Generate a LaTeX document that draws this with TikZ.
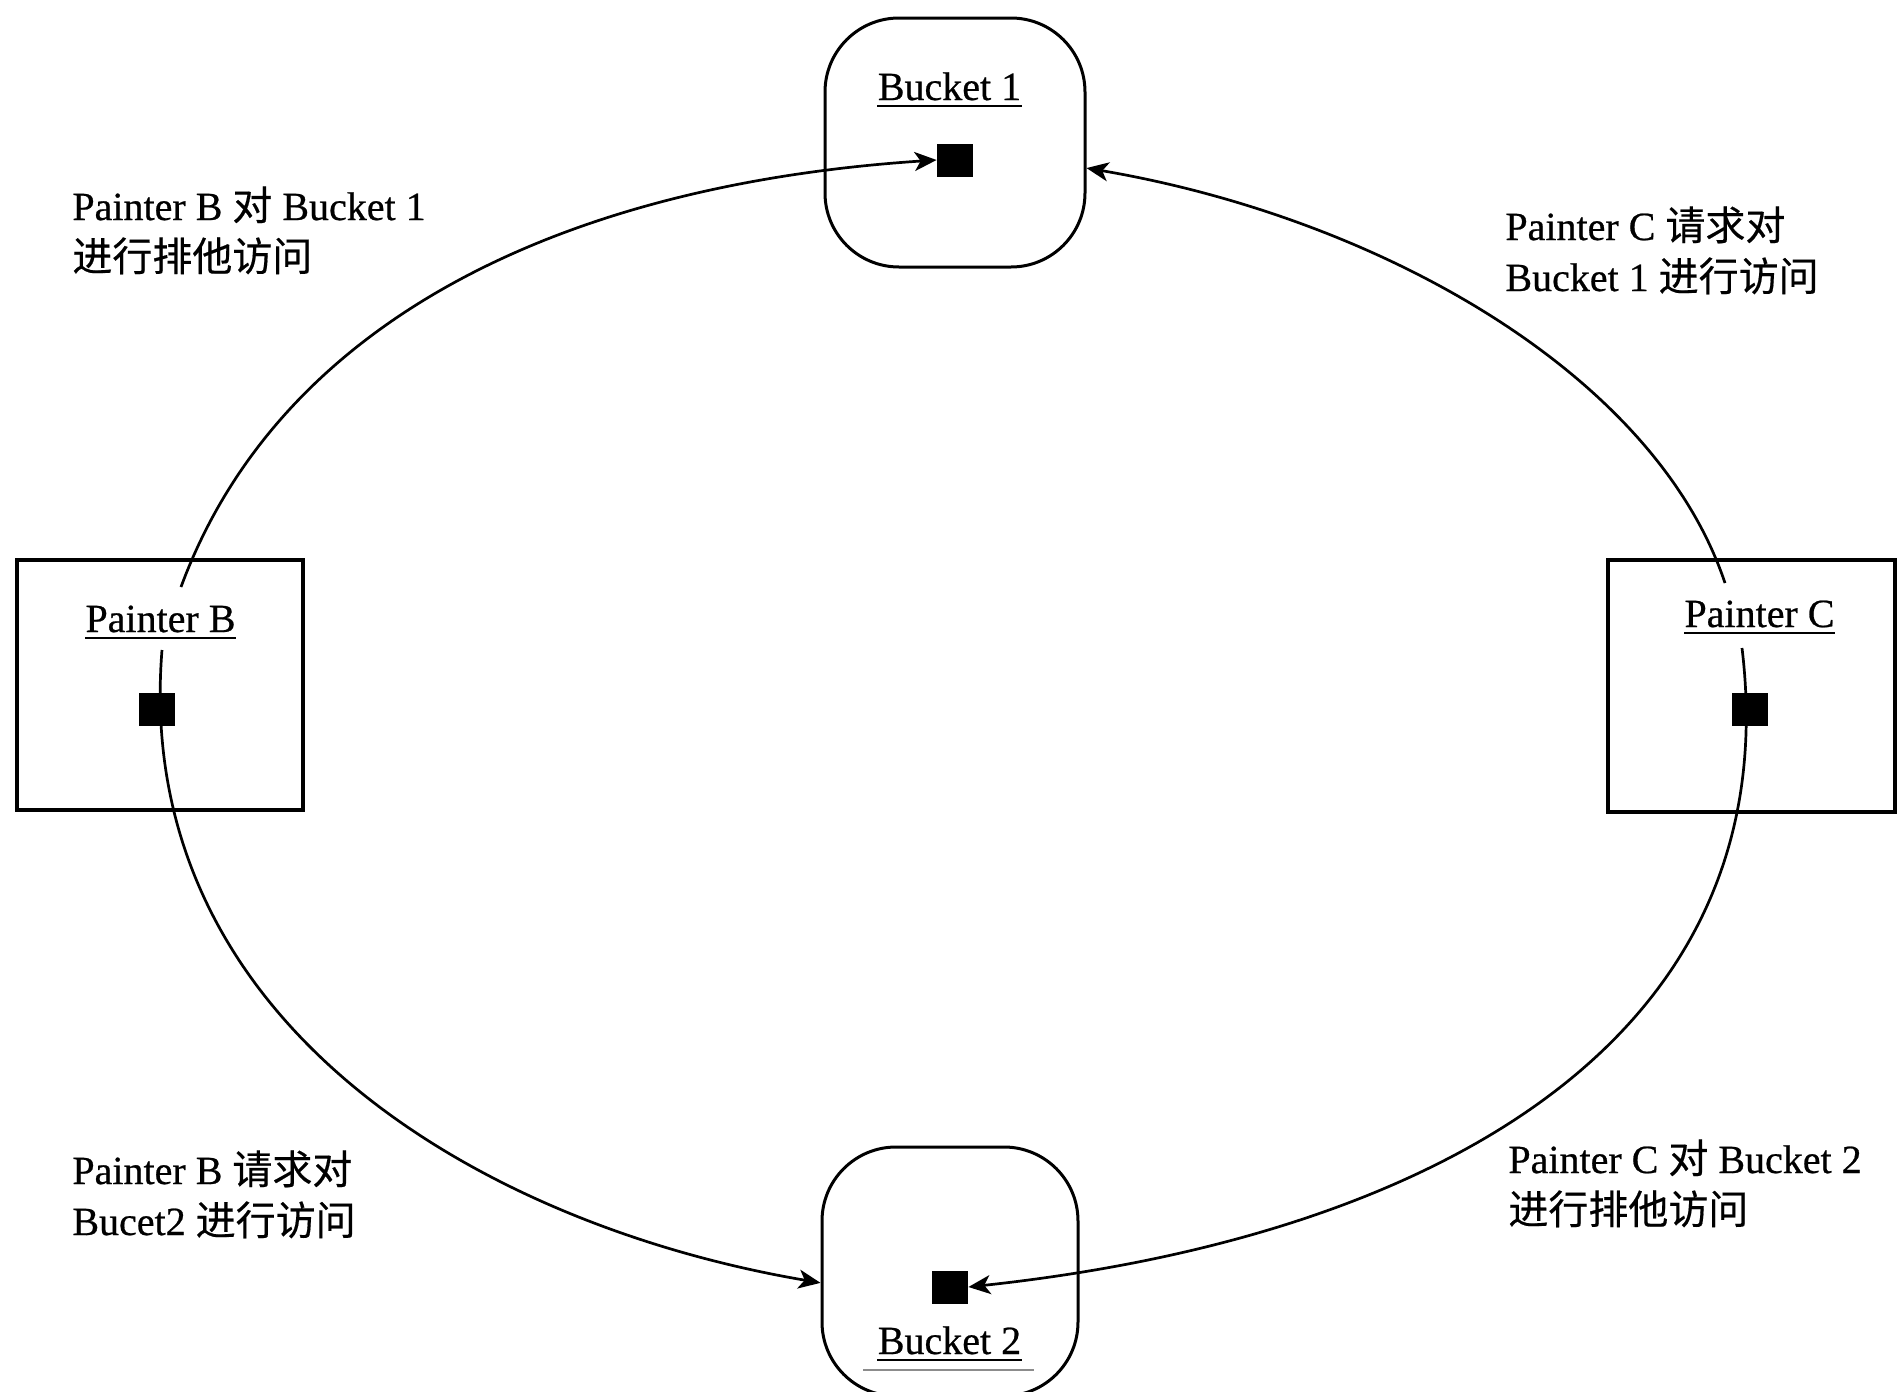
\documentclass[tikz,border=0pt]{standalone}
\usepackage{fontspec}
\setmainfont{Liberation Serif}[FakeBold=0.6]
\newfontfamily\cjk{Noto Sans CJK SC}[FakeBold=0.4]
\usetikzlibrary{arrows.meta}

\begin{document}
\begin{tikzpicture}[x=0.5pt,y=-0.5pt,
  painter/.style={draw, line width=1.6pt, minimum width=143pt, minimum height=125pt, inner sep=0pt},
  bucket/.style={draw, line width=1.5pt, rounded corners=37pt, minimum width=130pt, minimum height=124.5pt, inner sep=0pt},
  slot/.style={fill=black, minimum width=18pt, minimum height=16.5pt, inner sep=0pt},
  title/.style={inner sep=0pt, anchor=base, font=\fontsize{20}{24}\selectfont},
  uline/.style={line width=1.2pt},
  note/.style={inner sep=0pt, anchor=base west, align=left, font=\fontsize{20}{25.5}\selectfont},
  flow/.style={line width=1.35pt, -{Stealth[length=11pt,width=9.5pt,inset=3pt]}}
]
\useasboundingbox (0,0) rectangle (1897,1392);
\fill[white] (0,0) rectangle (1897,1392);

% containers
\node[painter] (pB) at (160,685) {};
\node[painter, minimum width=143.5pt, minimum height=126pt] (pC) at (1751.5,686) {};
\node[bucket] (b1) at (955,142.5) {};
\node[bucket, minimum width=128pt] (b2) at (950,1271.5) {};

% titles
\node[title] (tB1) at (949.5,100) {Bucket 1};
\node[title] (tPB) at (160.5,632) {Painter B};
\node[title] (tPC) at (1759.5,627) {Painter C};
\node[title] (tB2) at (949.5,1354) {Bucket 2};
\foreach \t in {tB1,tPB,tPC,tB2}
  \draw[uline] ([yshift=-3pt]\t.base west) -- ([yshift=-3pt]\t.base east);
\draw[line width=0.8pt, black!45] ([yshift=-8pt,xshift=-7pt]tB2.base west) -- ([yshift=-8pt,xshift=6pt]tB2.base east);

% slots
\node[slot] (sB1) at (955,160) {};
\node[slot] (sPB) at (157,709) {};
\node[slot] (sPC) at (1750,709) {};
\node[slot] (sB2) at (950,1287) {};

% arc ends inside the painter boxes
\coordinate (bUp) at (181,587);
\coordinate (bDown) at (162,650);
\coordinate (cUp) at (1725,583);
\coordinate (cDown) at (1742,648);

% access arcs
\draw[flow] (bUp) .. controls (278,324) and (557,185) .. (sB1.west);
\draw[flow] (cUp) .. controls (1655,374) and (1380,218) .. (b1.-11);
\draw[flow] (bDown) .. controls (132,1022) and (480,1225) .. (b2.185);
\draw[flow] (cDown) .. controls (1790,1045) and (1425,1238) .. (sB2.east);

% annotations (anchored on the baseline of the second line)
\node[note] (nTL) at (72,271) {Painter B {\cjk 对} Bucket 1\\{\cjk 进行排他访问}};
\node[note] (nTR) at (1505,291) {Painter C {\cjk 请求对}\\Bucket 1 {\cjk 进行访问}};
\node[note] (nBL) at (72,1235) {Painter B {\cjk 请求对}\\Bucet2 {\cjk 进行访问}};
\node[note] (nBR) at (1508,1224) {Painter C {\cjk 对} Bucket 2\\{\cjk 进行排他访问}};
\end{tikzpicture}
\end{document}
